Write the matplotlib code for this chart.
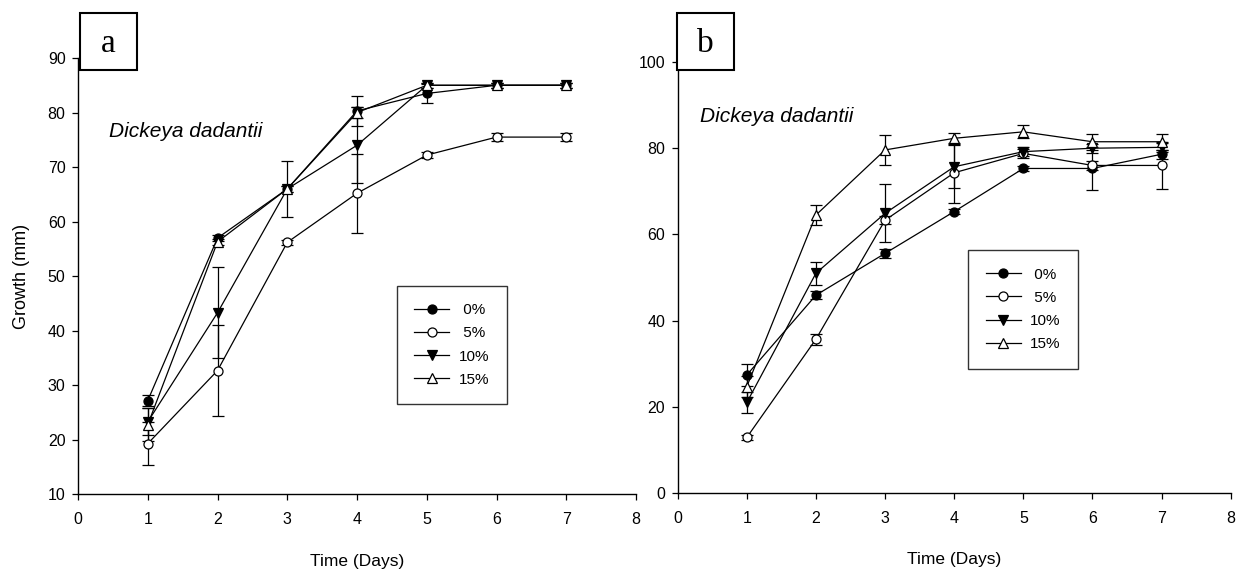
import matplotlib
matplotlib.use("Agg")
import matplotlib.pyplot as plt
from matplotlib.patches import Rectangle

plt.rcParams['font.family'] = ['Liberation Sans', 'DejaVu Sans']

days = [1, 2, 3, 4, 5, 6, 7]
labels = ['0%', '5%', '10%', '15%']

# panel a - growth (mm) and error
a_0 = [27.2, 57.0, 66.0, 80.3, 83.5, 85.0, 85.0]
a_0_err = [1.0, 0.5, 0.5, 2.8, 1.8, 0.5, 0.5]
a_5 = [19.3, 32.7, 56.2, 65.2, 72.2, 75.5, 75.5]
a_5_err = [3.9, 8.3, 0.4, 7.2, 0.5, 0.8, 0.8]
a_10 = [23.3, 43.3, 66.0, 74.0, 85.0, 85.0, 85.0]
a_10_err = [2.5, 8.3, 5.1, 7.0, 0.5, 0.5, 0.5]
a_15 = [22.8, 56.3, 66.0, 80.0, 85.0, 85.0, 85.0]
a_15_err = [3.0, 0.5, 0.5, 1.0, 0.5, 0.5, 0.5]

# panel b
b_0 = [27.4, 45.9, 55.6, 65.3, 75.3, 75.3, 78.6]
b_0_err = [2.5, 1.0, 1.0, 0.5, 0.5, 5.0, 1.0]
b_5 = [12.9, 35.7, 63.3, 74.3, 78.8, 76.0, 76.0]
b_5_err = [0.5, 1.3, 1.0, 7.0, 1.0, 1.0, 5.5]
b_10 = [21.0, 51.0, 64.9, 75.7, 79.2, 80.0, 80.2]
b_10_err = [2.4, 2.7, 6.7, 5.0, 1.0, 1.0, 1.0]
b_15 = [24.7, 64.5, 79.6, 82.3, 83.8, 81.5, 81.5]
b_15_err = [2.5, 2.3, 3.4, 1.3, 1.5, 1.8, 1.8]

styles = [
    dict(marker='o', mfc='black', ms=6.5),
    dict(marker='o', mfc='white', ms=6.5),
    dict(marker='v', mfc='black', ms=7.5),
    dict(marker='^', mfc='white', ms=7.5),
]

fig = plt.figure(figsize=(12.41, 5.71), dpi=100)
ax1 = fig.add_axes([0.0629, 0.1343, 0.4496, 0.7641])
ax2 = fig.add_axes([0.5461, 0.1366, 0.4456, 0.7548])


def draw_panel(ax, series, errs, ylim, yticks, legend_pos):
    handles = []
    for vals, err, st in zip(series, errs, styles):
        h = ax.errorbar(days, vals, yerr=err, color='black', lw=0.9,
                        mec='black', mew=0.9, elinewidth=0.9,
                        capsize=4.3, capthick=0.9, **st)
        handles.append(h[0])
    ax.set_xlim(0, 8)
    ax.set_xticks(range(0, 9))
    ax.set_ylim(*ylim)
    ax.set_yticks(yticks)
    for s in ['top', 'right']:
        ax.spines[s].set_visible(False)
    for s in ['left', 'bottom']:
        ax.spines[s].set_linewidth(1.0)
    ax.tick_params(direction='out', length=4, width=0.9, labelsize=11.5)
    ax.tick_params(axis='x', pad=9)
    ax.tick_params(axis='y', pad=5)
    ax.set_xlabel('Time (Days)', fontsize=12.5, labelpad=19)
    # pad short labels so the text sits centred like the original
    legend_labels = [' ' + lab if len(lab) == 2 else lab for lab in labels]
    leg = ax.legend(handles, legend_labels, loc='upper left',
                    bbox_to_anchor=legend_pos, bbox_transform=fig.transFigure,
                    fontsize=11, frameon=True, fancybox=False,
                    edgecolor='black', borderpad=1.15, handlelength=2.3,
                    handletextpad=0.6, labelspacing=0.6, borderaxespad=0)
    leg.get_frame().set_linewidth(1.0)


draw_panel(ax1, [a_0, a_5, a_10, a_15], [a_0_err, a_5_err, a_10_err, a_15_err],
           (10, 90), range(10, 91, 10), (0.3197, 0.4997))
draw_panel(ax2, [b_0, b_5, b_10, b_15], [b_0_err, b_5_err, b_10_err, b_15_err],
           (0, 100), range(0, 101, 20), (0.780, 0.5622))

ax1.set_ylabel('Growth (mm)', fontsize=13, labelpad=13)

fig.text(0.0878, 0.7595, 'Dickeya dadantii', fontsize=15, style='italic')
fig.text(0.5641, 0.7858, 'Dickeya dadantii', fontsize=15, style='italic')

# boxed panel letters
for x0, letter in [(0.0645, 'a'), (0.5455, 'b')]:
    fig.patches.append(Rectangle((x0, 0.8774), 0.0462, 0.1004, transform=fig.transFigure,
                                 fill=True, facecolor='white', edgecolor='black',
                                 linewidth=1.5, zorder=5))
    fig.text(x0 + 0.0231, 0.909, letter, family='Liberation Serif', fontsize=24,
             ha='center', va='baseline', zorder=6)

fig.savefig('out.png', dpi=100)
